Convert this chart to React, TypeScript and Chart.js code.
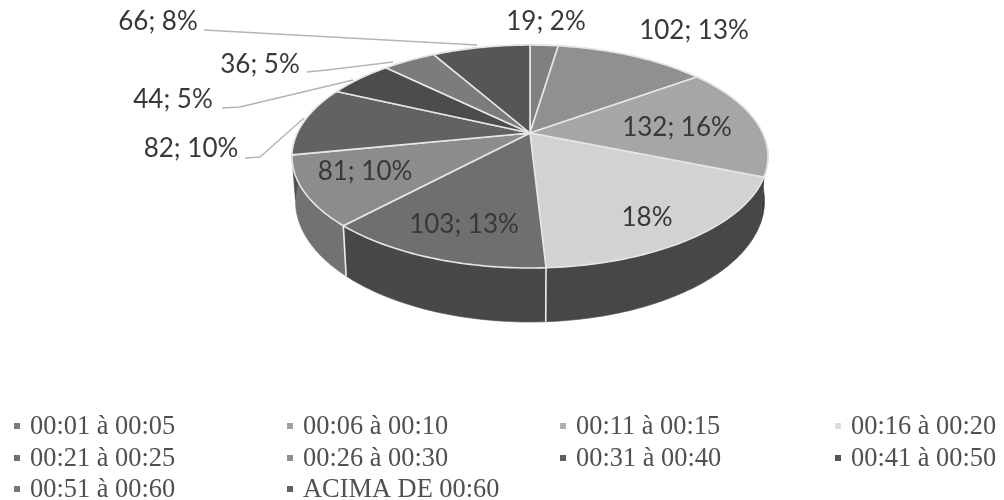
import React, { useEffect, useRef } from "react";
import { Chart, registerables } from "chart.js";

Chart.register(...registerables);

const categories = [
  "00:01 à 00:05", "00:06 à 00:10", "00:11 à 00:15", "00:16 à 00:20", "00:21 à 00:25",
  "00:26 à 00:30", "00:31 à 00:40", "00:41 à 00:50", "00:51 à 00:60", "ACIMA DE 00:60",
];
const counts = [19, 102, 132, 145, 103, 81, 82, 44, 36, 66];
const sliceLabels = ["19; 2%", "102; 13%", "132; 16%", "18%", "103; 13%", "81; 10%", "82; 10%", "44; 5%", "36; 5%", "66; 8%"];

const topColors = ["#808080", "#909090", "#a6a6a6", "#d2d2d2", "#6f6f6f", "#8c8c8c", "#626262", "#4c4c4c", "#7c7c7c", "#565656"];
const wallColors = ["#606060", "#686868", "#3c3c3c", "#474747", "#484848", "#727272", "#505050", "#404040", "#606060", "#444444"];
const legendColors = ["#7c7c7c", "#a0a0a0", "#b0b0b0", "#dcdcdc", "#707070", "#909090", "#606060", "#555555", "#777777", "#606060"];

// Perspective of the disc: centre, horizontal and vertical radius, foreshortening, rim depth
const CX = 530, CY = 133, A = 232.7, B = 106.5, K = 0.211, DEPTH = 54;

const labelSpots: [number, number][] = [
  [546, 22], [694, 31], [677, 128], [647, 218], [464, 225],
  [365, 172], [191, 149], [173, 100], [260, 65], [158, 22],
];
const leaders: Record<number, [number, number][]> = {
  6: [[245, 158], [260, 157], [304, 118]],
  7: [[222, 108], [240, 107], [353, 80]],
  8: [[307, 72], [327, 70], [393, 62]],
  9: [[204, 30], [477, 45]],
};
const legendCols = [15, 288, 561, 836];
const legendRows = [434, 466, 497];

const project = (a: number) => {
  const u = Math.cos(a), v = -Math.sin(a), w = 1 + K * v;
  return { x: CX + (A * u) / w, y: CY - (B * v) / w, s: (1 - K) / w };
};
const anglesOf = (start: number, end: number) => {
  const n = Math.max(2, Math.ceil((end - start) / 0.02));
  return Array.from({ length: n + 1 }, (_, i) => start + ((end - start) * i) / n);
};

const perspectivePie = {
  id: "perspectivePie",
  beforeDatasetsDraw(chart: any) {
    const { ctx } = chart;
    const arcs = chart.getDatasetMeta(0).data;
    ctx.save();
    // rim
    arcs.forEach((arc: any, i: number) => {
      const pts = anglesOf(arc.startAngle, arc.endAngle).map(project);
      const low = pts.map((p) => ({ x: CX + (p.x - CX) * 0.985, y: p.y + DEPTH * p.s }));
      ctx.beginPath();
      pts.forEach((p, j) => (j ? ctx.lineTo(p.x, p.y) : ctx.moveTo(p.x, p.y)));
      low.reverse().forEach((p) => ctx.lineTo(p.x, p.y));
      ctx.closePath();
      ctx.fillStyle = wallColors[i];
      ctx.fill();
      ctx.strokeStyle = wallColors[i];
      ctx.lineWidth = 0.6;
      ctx.stroke();
    });
    // rim separators on the visible front
    arcs.forEach((arc: any) => {
      const p = project(arc.startAngle);
      if (Math.sin(arc.startAngle) > 0.5) {
        ctx.beginPath();
        ctx.moveTo(p.x, p.y);
        ctx.lineTo(CX + (p.x - CX) * 0.985, p.y + DEPTH * p.s);
        ctx.strokeStyle = "#eeeeee";
        ctx.lineWidth = 1.6;
        ctx.stroke();
      }
    });
    // top
    arcs.forEach((arc: any, i: number) => {
      const pts = anglesOf(arc.startAngle, arc.endAngle).map(project);
      ctx.beginPath();
      ctx.moveTo(CX, CY);
      pts.forEach((p) => ctx.lineTo(p.x, p.y));
      ctx.closePath();
      ctx.fillStyle = topColors[i];
      ctx.fill();
      ctx.strokeStyle = "#e6e6e6";
      ctx.lineWidth = 1.6;
      ctx.lineJoin = "round";
      ctx.stroke();
    });
    ctx.restore();
    return false;
  },
  afterDraw(chart: any) {
    const { ctx } = chart;
    ctx.save();
    // leader lines
    ctx.strokeStyle = "#b4b4b4";
    ctx.lineWidth = 1.4;
    Object.values(leaders).forEach((pts) => {
      ctx.beginPath();
      pts.forEach((p, j) => (j ? ctx.lineTo(p[0], p[1]) : ctx.moveTo(p[0], p[1])));
      ctx.stroke();
    });
    // slice labels
    ctx.font = "26px Lato";
    ctx.fillStyle = "#383838";
    ctx.textAlign = "center";
    ctx.textBaseline = "middle";
    sliceLabels.forEach((t, i) => ctx.fillText(t, labelSpots[i][0], labelSpots[i][1]));
    // legend
    ctx.textAlign = "left";
    ctx.textBaseline = "alphabetic";
    ctx.font = "26.4px 'Liberation Serif'";
    categories.forEach((t, i) => {
      const x = legendCols[i % 4], y = legendRows[Math.floor(i / 4)];
      ctx.fillStyle = legendColors[i];
      ctx.fillRect(x - 1, y - 11, 6, 6);
      ctx.fillStyle = "#505050";
      ctx.fillText(t, x + 15, y);
    });
    ctx.restore();
  },
};

export default function App() {
  const ref = useRef<HTMLCanvasElement>(null);
  useEffect(() => {
    const chart = new Chart(ref.current!, {
      type: "pie",
      data: { labels: categories, datasets: [{ data: counts, backgroundColor: topColors }] },
      options: {
        animation: false,
        responsive: false,
        devicePixelRatio: 1,
        plugins: { legend: { display: false }, tooltip: { enabled: false } },
      },
      plugins: [perspectivePie],
    } as any);
    return () => chart.destroy();
  }, []);
  return (
    <div style={{ position: "absolute", left: 0, top: 0, width: 1004, height: 500, background: "#fff" }}>
      <canvas ref={ref} width={1004} height={500} style={{ display: "block", filter: "blur(0.6px)" }} />
    </div>
  );
}
